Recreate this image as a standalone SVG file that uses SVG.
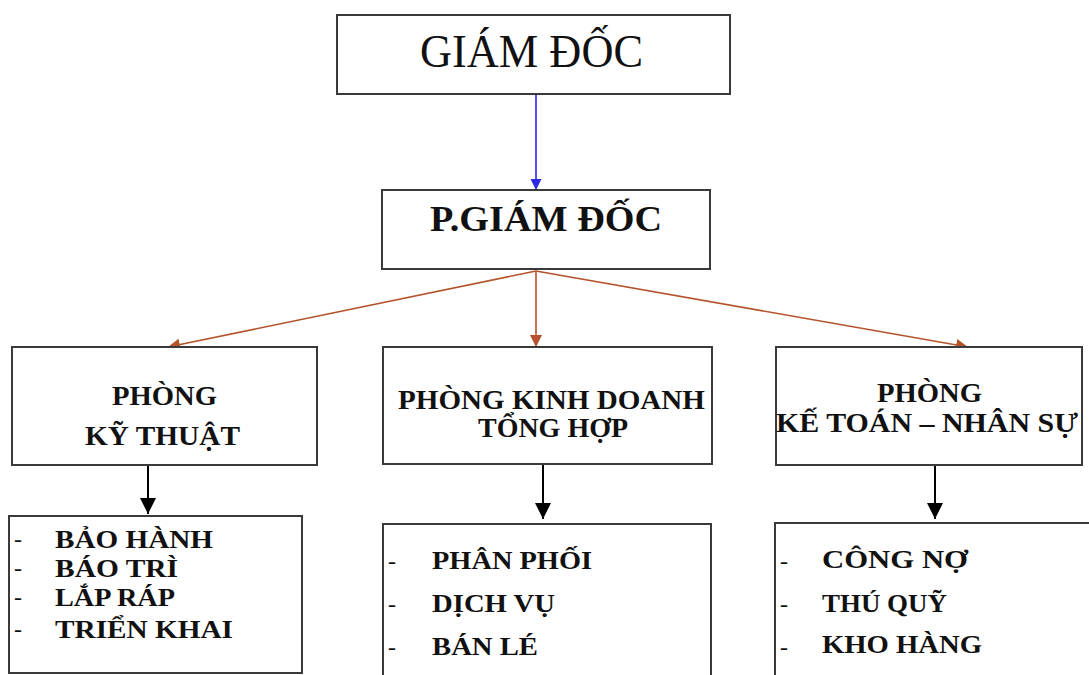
<svg xmlns="http://www.w3.org/2000/svg" width="1089" height="675" viewBox="0 0 1089 675">
<style>
.box{fill:#fff;stroke:#3a3a3a;stroke-width:2}
.t{font-family:"Liberation Serif","Times New Roman",serif;fill:#111;font-weight:bold}
.r{font-weight:normal}
.blue{stroke:#2a2ae6;stroke-width:1.6;fill:none}
.brown{stroke:#b5532c;stroke-width:1.6;fill:none}
.black{stroke:#000;stroke-width:2;fill:none}
.dash{font-family:"Liberation Serif","Times New Roman",serif;font-size:24px;fill:#111}
</style>
<defs>
<marker id="ab" viewBox="0 0 10 10" refX="10" refY="5" markerWidth="11" markerHeight="11" markerUnits="userSpaceOnUse" orient="auto"><path d="M0,0L10,5L0,10z" fill="#2a2ae6"/></marker>
<marker id="ar" viewBox="0 0 10 10" refX="10" refY="5" markerWidth="12" markerHeight="12" markerUnits="userSpaceOnUse" orient="auto"><path d="M0,0L10,5L0,10z" fill="#b5532c"/></marker>
<marker id="ak" viewBox="0 0 10 10" refX="10" refY="5" markerWidth="16" markerHeight="16" markerUnits="userSpaceOnUse" orient="auto"><path d="M0,0L10,5L0,10z" fill="#000"/></marker>
</defs>
<rect width="1089" height="675" fill="#fff"/>
<g id="connectors">
<line class="blue" x1="536" y1="95" x2="536" y2="190" marker-end="url(#ab)"/>
<line class="brown" x1="536" y1="271" x2="168" y2="347" marker-end="url(#ar)"/>
<line class="brown" x1="536" y1="271" x2="536" y2="347" marker-end="url(#ar)"/>
<line class="brown" x1="536" y1="271" x2="968" y2="347" marker-end="url(#ar)"/>
<line class="black" x1="148" y1="465" x2="148" y2="514" marker-end="url(#ak)"/>
<line class="black" x1="543" y1="465" x2="543" y2="519" marker-end="url(#ak)"/>
<line class="black" x1="935" y1="465" x2="935" y2="519" marker-end="url(#ak)"/>
</g>
<g id="giam-doc">
<rect class="box" x="337" y="15" width="393" height="79"/>
<text class="t r" x="420" y="67" font-size="46" textLength="223" lengthAdjust="spacingAndGlyphs">GIÁM ĐỐC</text>
</g>
<g id="p-giam-doc">
<rect class="box" x="382" y="190" width="328" height="79"/>
<text class="t" x="430" y="231" font-size="36" textLength="232" lengthAdjust="spacingAndGlyphs">P.GIÁM ĐỐC</text>
</g>
<g id="phong-ky-thuat">
<rect class="box" x="12" y="347" width="305" height="118"/>
<text class="t" x="112" y="405" font-size="27" textLength="105" lengthAdjust="spacingAndGlyphs">PHÒNG</text>
<text class="t" x="85" y="445" font-size="27" textLength="155" lengthAdjust="spacingAndGlyphs">KỸ THUẬT</text>
</g>
<g id="phong-kinh-doanh">
<rect class="box" x="383" y="347" width="329" height="117"/>
<text class="t" x="398" y="409" font-size="27" textLength="307" lengthAdjust="spacingAndGlyphs">PHÒNG KINH DOANH</text>
<text class="t" x="478" y="437" font-size="27" textLength="150" lengthAdjust="spacingAndGlyphs">TỔNG HỢP</text>
</g>
<g id="phong-ke-toan">
<rect class="box" x="776" y="347" width="306" height="118"/>
<text class="t" x="877" y="402" font-size="27" textLength="105" lengthAdjust="spacingAndGlyphs">PHÒNG</text>
<text class="t" x="776" y="432" font-size="27" textLength="302" lengthAdjust="spacingAndGlyphs">KẾ TOÁN – NHÂN SỰ</text>
</g>
<g id="ky-thuat-list">
<rect class="box" x="9" y="516" width="293" height="157"/>
<text class="dash" x="14" y="547">-</text>
<text class="dash" x="14" y="576">-</text>
<text class="dash" x="14" y="605">-</text>
<text class="dash" x="14" y="637">-</text>
<text class="t" x="55" y="548" font-size="25" textLength="158" lengthAdjust="spacingAndGlyphs">BẢO HÀNH</text>
<text class="t" x="55" y="577" font-size="25" textLength="123" lengthAdjust="spacingAndGlyphs">BÁO TRÌ</text>
<text class="t" x="55" y="606" font-size="25" textLength="120" lengthAdjust="spacingAndGlyphs">LẮP RÁP</text>
<text class="t" x="55" y="638" font-size="25" textLength="178" lengthAdjust="spacingAndGlyphs">TRIỂN KHAI</text>
</g>
<g id="kinh-doanh-list">
<rect class="box" x="383" y="524" width="328" height="160"/>
<text class="dash" x="388" y="569">-</text>
<text class="dash" x="388" y="612">-</text>
<text class="dash" x="388" y="655">-</text>
<text class="t" x="432" y="569" font-size="25" textLength="160" lengthAdjust="spacingAndGlyphs">PHÂN PHỐI</text>
<text class="t" x="432" y="612" font-size="25" textLength="123" lengthAdjust="spacingAndGlyphs">DỊCH VỤ</text>
<text class="t" x="432" y="655" font-size="25" textLength="106" lengthAdjust="spacingAndGlyphs">BÁN LÉ</text>
</g>
<g id="ke-toan-list">
<rect class="box" x="775" y="523" width="330" height="160"/>
<text class="dash" x="780" y="569">-</text>
<text class="dash" x="780" y="612">-</text>
<text class="dash" x="780" y="655">-</text>
<text class="t" x="822" y="568" font-size="25" textLength="146" lengthAdjust="spacingAndGlyphs">CÔNG NỢ</text>
<text class="t" x="822" y="612" font-size="25" textLength="125" lengthAdjust="spacingAndGlyphs">THÚ QUỸ</text>
<text class="t" x="822" y="653" font-size="25" textLength="160" lengthAdjust="spacingAndGlyphs">KHO HÀNG</text>
</g>
</svg>
